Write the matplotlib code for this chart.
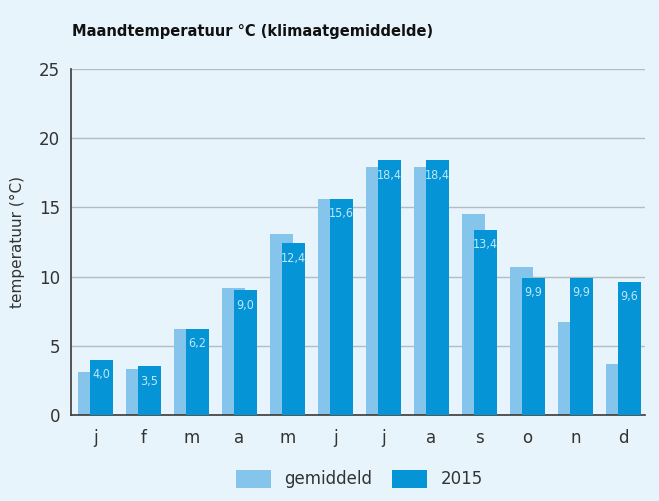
import matplotlib.pyplot as plt
import numpy as np

maanden = ['j', 'f', 'm', 'a', 'm', 'j', 'j', 'a', 's', 'o', 'n', 'd']
gemiddeld = [3.1, 3.3, 6.2, 9.2, 13.1, 15.6, 17.9, 17.9, 14.5, 10.7, 6.7, 3.7]
jaar_2015 = [4.0, 3.5, 6.2, 9.0, 12.4, 15.6, 18.4, 18.4, 13.4, 9.9, 9.9, 9.6]

achtergrond = '#E7F4FB'
licht = '#85C5EC'
donker = '#0594D6'
tekst = '#333333'

fig = plt.figure(figsize=(6.59, 5.01), dpi=100, facecolor=achtergrond)
ax = fig.add_axes([0.108, 0.172, 0.871, 0.690], facecolor=achtergrond)

x = np.arange(len(maanden))
breedte = 0.48
verschuiving = 0.125

ax.bar(x - verschuiving, gemiddeld, breedte, color=licht, zorder=2, label='gemiddeld')
staven = ax.bar(x + verschuiving, jaar_2015, breedte, color=donker, zorder=3, label='2015')

# waarden in de donkere staven
for rect, waarde in zip(staven, jaar_2015):
    ax.text(rect.get_x() + rect.get_width() / 2, waarde - 0.6,
            f'{waarde:.1f}'.replace('.', ','), ha='center', va='top',
            fontsize=9, color='#BFE6F8', fontstretch='condensed', zorder=4)

ax.set_ylim(0, 25)
ax.set_xlim(-0.5, 11.45)
ax.set_yticks([0, 5, 10, 15, 20, 25])
ax.set_xticks(x)
ax.set_xticklabels(maanden)
ax.tick_params(axis='both', length=0, labelsize=12, colors=tekst)
ax.tick_params(axis='y', pad=8)
ax.tick_params(axis='x', pad=10)
ax.yaxis.grid(True, color='#B4BCC0', linewidth=1, zorder=1)
ax.set_axisbelow(True)

for kant in ['top', 'right']:
    ax.spines[kant].set_visible(False)
for kant in ['left', 'bottom']:
    ax.spines[kant].set_color('#3A3A3A')
    ax.spines[kant].set_linewidth(1.2)

ax.set_ylabel('temperatuur (°C)', fontsize=11, color=tekst, labelpad=10)

fig.text(0.109, 0.938, 'Maandtemperatuur °C (klimaatgemiddelde)',
         fontsize=10.5, fontweight='bold', color='#111111', va='center')

fig.legend(loc='center', bbox_to_anchor=(0.545, 0.044), ncol=2, frameon=False,
           fontsize=12, handlelength=2.1, handleheight=1.3, columnspacing=1.2,
           labelcolor=tekst)

fig.savefig('out.png', dpi=100, facecolor=achtergrond)
